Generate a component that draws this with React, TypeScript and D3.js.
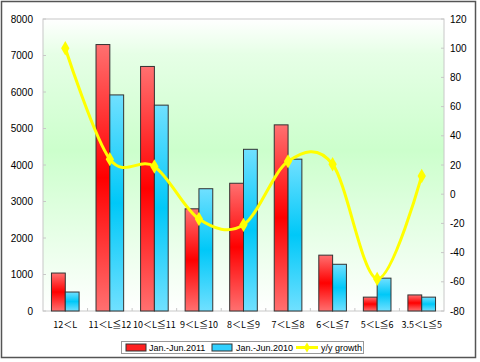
import * as React from 'react';
import * as d3 from 'd3';

const categories = ['12＜L', '11＜L≦12', '10＜L≦11', '9＜L≦10', '8＜L≦9', '7＜L≦8', '6＜L≦7', '5＜L≦6', '3.5＜L≦5'];
const sales2011 = [1040, 7300, 6700, 2800, 3500, 5100, 1530, 380, 440];
const sales2010 = [520, 5920, 5640, 3350, 4430, 4160, 1280, 900, 380];
const growth = [100, 24, 19, -17, -21, 22.5, 20.5, -58, 12.5];
const leftTicks = [0, 1000, 2000, 3000, 4000, 5000, 6000, 7000, 8000];
const rightTicks = [-80, -60, -40, -20, 0, 20, 40, 60, 80, 100, 120];

const W = 480;
const H = 362;
const plot = { left: 43, right: 444, top: 19, bottom: 311 };

const App = () => {
  const ref = React.useRef<SVGSVGElement>(null);

  React.useEffect(() => {
    const svg = d3.select(ref.current);
    svg.selectAll('*').remove();

    const defs = svg.append('defs');
    const bg = defs.append('linearGradient').attr('id', 'bg').attr('x1', 0).attr('y1', 0).attr('x2', 0).attr('y2', 1);
    [[0, '#ffffff'], [0.12, '#e6ffe6'], [0.45, '#ccffcc'], [0.75, '#e8ffe8'], [1, '#ffffff']].forEach(([o, c]) =>
      bg.append('stop').attr('offset', o as number).attr('stop-color', c as string));

    const barGrad = (id: string, light: string, dark: string) => {
      const g = defs.append('linearGradient').attr('id', id).attr('x1', 0).attr('y1', 0).attr('x2', 0).attr('y2', 1);
      g.append('stop').attr('offset', 0).attr('stop-color', light);
      g.append('stop').attr('offset', 0.5).attr('stop-color', dark);
      g.append('stop').attr('offset', 1).attr('stop-color', light);
    };
    barGrad('red', '#ff7070', '#ff0000');
    barGrad('blue', '#70e0ff', '#00c8f8');

    // chart border
    svg.append('rect').attr('x', 1.5).attr('y', 1.5).attr('width', 474).attr('height', 356)
      .attr('fill', '#ffffff').attr('stroke', '#555').attr('stroke-width', 1.5);

    svg.append('rect').attr('x', plot.left).attr('y', plot.top)
      .attr('width', plot.right - plot.left).attr('height', plot.bottom - plot.top)
      .attr('fill', 'url(#bg)').attr('stroke', '#c8c8c8').attr('stroke-width', 1);

    const x = d3.scaleBand().domain(categories).range([plot.left, plot.right]);
    const xs = d3.scaleBand().domain(['2011', '2010']).range([0, x.bandwidth() * 0.62]);
    const off = (x.bandwidth() - xs.range()[1]) / 2;
    const yL = d3.scaleLinear().domain([0, 8000]).range([plot.bottom, plot.top]);
    const yR = d3.scaleLinear().domain([-80, 120]).range([plot.bottom, plot.top]);

    // ticks
    const g = svg.append('g');
    g.selectAll('.lt').data(leftTicks).enter().append('line')
      .attr('x1', plot.left).attr('x2', plot.left + 3)
      .attr('y1', d => yL(d)).attr('y2', d => yL(d)).attr('stroke', '#c8c8c8');
    g.selectAll('.rt').data(rightTicks).enter().append('line')
      .attr('x1', plot.right - 3).attr('x2', plot.right)
      .attr('y1', d => yR(d)).attr('y2', d => yR(d)).attr('stroke', '#c8c8c8');
    g.selectAll('.bt').data(categories.slice(1)).enter().append('line')
      .attr('x1', d => x(d)!).attr('x2', d => x(d)!)
      .attr('y1', plot.bottom).attr('y2', plot.bottom - 3).attr('stroke', '#c8c8c8');

    const axisFont = 'Arial, "Liberation Sans", sans-serif';
    g.selectAll('.ll').data(leftTicks).enter().append('text')
      .attr('x', 33).attr('y', d => yL(d)).attr('dy', '0.35em')
      .attr('text-anchor', 'end').attr('font-family', axisFont).attr('font-size', 10).attr('fill', '#000')
      .text(d => d);
    g.selectAll('.rl').data(rightTicks).enter().append('text')
      .attr('x', 450).attr('y', d => yR(d)).attr('dy', '0.35em')
      .attr('text-anchor', 'start').attr('font-family', axisFont).attr('font-size', 10).attr('fill', '#000')
      .text(d => d);
    g.selectAll('.cl').data(categories).enter().append('text')
      .attr('x', d => x(d)! + x.bandwidth() / 2).attr('y', 325).attr('dy', '0.35em')
      .attr('text-anchor', 'middle').attr('font-family', '"Noto Sans CJK SC", sans-serif').attr('font-size', 9)
      .attr('fill', '#000')
      .text(d => d);

    // bars
    const bars = svg.append('g');
    bars.selectAll('.r').data(sales2011).enter().append('rect')
      .attr('x', (d, i) => x(categories[i])! + off + xs('2011')!)
      .attr('y', d => yL(d)).attr('width', xs.bandwidth())
      .attr('height', d => plot.bottom - yL(d))
      .attr('fill', 'url(#red)').attr('stroke', '#333').attr('stroke-width', 1);
    bars.selectAll('.b').data(sales2010).enter().append('rect')
      .attr('x', (d, i) => x(categories[i])! + off + xs('2010')!)
      .attr('y', d => yL(d)).attr('width', xs.bandwidth())
      .attr('height', d => plot.bottom - yL(d))
      .attr('fill', 'url(#blue)').attr('stroke', '#333').attr('stroke-width', 1);

    // growth line
    const line = d3.line<number>()
      .x((d, i) => x(categories[i])! + x.bandwidth() / 2)
      .y(d => yR(d))
      .curve(d3.curveCardinal.tension(0));
    svg.append('path').datum(growth).attr('d', line)
      .attr('fill', 'none').attr('stroke', '#ffff00').attr('stroke-width', 3);
    const diamond = d3.symbol().type(d3.symbolDiamond).size(60);
    svg.selectAll('.m').data(growth).enter().append('path')
      .attr('d', diamond)
      .attr('transform', (d, i) => `translate(${x(categories[i])! + x.bandwidth() / 2},${yR(d)})`)
      .attr('fill', '#ffff00');

    // legend
    const lg = svg.append('g');
    const legendFont = 9;
    lg.append('rect').attr('x', 121.5).attr('y', 341.5).attr('width', 242).attr('height', 12)
      .attr('fill', '#fff').attr('stroke', '#999');
    lg.append('rect').attr('x', 126).attr('y', 344).attr('width', 20).attr('height', 7)
      .attr('fill', '#ff2020').attr('stroke', '#333');
    lg.append('text').attr('x', 149).attr('y', 348).attr('dy', '0.35em')
      .attr('font-family', axisFont).attr('font-size', legendFont).text('Jan.-Jun.2011');
    lg.append('rect').attr('x', 212).attr('y', 344).attr('width', 20).attr('height', 7)
      .attr('fill', '#30d0ff').attr('stroke', '#333');
    lg.append('text').attr('x', 236).attr('y', 348).attr('dy', '0.35em')
      .attr('font-family', axisFont).attr('font-size', legendFont).text('Jan.-Jun.2010');
    lg.append('line').attr('x1', 296).attr('x2', 318).attr('y1', 347.5).attr('y2', 347.5)
      .attr('stroke', '#ffff00').attr('stroke-width', 3);
    lg.append('path').attr('d', d3.symbol().type(d3.symbolDiamond).size(30))
      .attr('transform', 'translate(307,347.5)').attr('fill', '#ffff00');
    lg.append('text').attr('x', 321).attr('y', 348).attr('dy', '0.35em')
      .attr('font-family', axisFont).attr('font-size', legendFont).text('y/y growth');
  }, []);

  return <svg ref={ref} width={W} height={H} style={{ position: 'absolute', left: 0, top: 0 }} />;
};

export default App;
